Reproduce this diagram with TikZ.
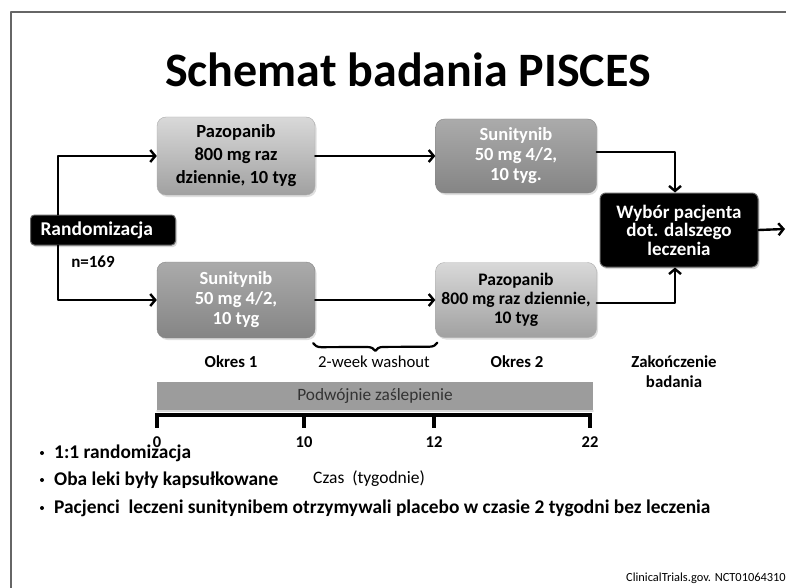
\documentclass[tikz,border=0pt]{standalone}
\usepackage{fontspec}
\setmainfont{Carlito}
\usetikzlibrary{arrows.meta,shadows,decorations.pathreplacing}
\definecolor{dadada}{rgb}{0.85,0.85,0.85}
\definecolor{aqaqaq}{rgb}{0.63,0.63,0.63}
\definecolor{acacac}{rgb}{0.67,0.67,0.67}
\definecolor{ebebeb}{rgb}{0.52,0.52,0.52}
\definecolor{babrab}{rgb}{0.61,0.61,0.61}
\definecolor{ramka}{rgb}{0.4,0.4,0.4}

\begin{document}
\begin{tikzpicture}[line cap=round,line join=round,>={Straight Barb[length=5pt,width=12pt]},x=1pt,y=-1pt,
  jasny/.style={rounded corners=9pt,top color=dadada,bottom color=aqaqaq,draw=acacac,align=center,inner xsep=3pt,
    font=\bfseries\fontsize{18.5}{20}\selectfont,drop shadow={opacity=0.25,shadow xshift=1.5pt,shadow yshift=-2pt}},
  ciemny/.style={jasny,top color=acacac,bottom color=ebebeb,draw=ebebeb,text=white},
  czarny/.style={rounded corners=6pt,fill=black,draw=ramka,line width=1pt,text=white,align=center,
    font=\bfseries\fontsize{19}{18.5}\selectfont,drop shadow={opacity=0.3,shadow xshift=1.5pt,shadow yshift=-2pt}},
  strz/.style={->,line width=2.4pt},
  opis/.style={font=\bfseries\fontsize{16.8}{20}\selectfont,align=center}]
\useasboundingbox (0,0) rectangle (786,588);
\draw[color=ramka,line width=1.4pt] (786,12) -- (11,12) -- (11,588);
\node[font=\bfseries\fontsize{48}{54}\selectfont] (tytul) at (408,70) {Schemat badania PISCES};
% boxes
\node[jasny,minimum width=158,minimum height=78,font=\bfseries\fontsize{18.5}{23}\selectfont] (pazo1) at (236,156) {Pazopanib\\800 mg raz\\dziennie, 10 tyg};
\node[ciemny,minimum width=158,minimum height=76] (suni1) at (236,300) {Sunitynib\\50 mg 4/2,\\10 tyg};
\node[ciemny,minimum width=161,minimum height=74] (suni2) at (516,156) {Sunitynib\\50 mg 4/2,\\10 tyg.};
\node[jasny,minimum width=161,minimum height=75,inner xsep=1pt,font=\bfseries\fontsize{17.6}{19}\selectfont] (pazo2) at (516,300) {Pazopanib\\800 mg raz dziennie,\\10 tyg};
\node[czarny,minimum width=158,minimum height=74] (wybor) at (679,230) {Wybór pacjenta\\dot. dalszego\\leczenia};
\node[czarny,anchor=west,minimum height=30,text width=125,inner xsep=10pt,align=left,rounded corners=4pt,
  font=\bfseries\fontsize{19.5}{20}\selectfont] (rand) at (30,230) {Randomizacja};
\node[font=\bfseries\fontsize{17}{18}\selectfont] (nliczba) at (93,262) {n=169};
\coordinate (wyjscie) at (785,229);
% arrows
\draw[strz] ([xshift=28pt]rand.north west) |- (pazo1);
\draw[strz] ([xshift=28pt]rand.south west) |- (suni1);
\draw[strz] (pazo1) -- (suni2);
\draw[strz] (suni1) -- (pazo2);
\draw[strz] ([yshift=4pt]suni2.east) -| ([xshift=-4pt]wybor.north);
\draw[strz] ([yshift=-3pt]pazo2.east) -| ([xshift=-4pt]wybor.south);
\draw[strz] (wybor.east) -- (wyjscie);
\draw[line width=2.2pt,decorate,decoration={brace,mirror,amplitude=8pt}] ([xshift=-2pt,yshift=-5pt]suni1.south east) -- ([xshift=2pt,yshift=-5pt]pazo2.south west);
% periods
\node[opis] (okres1) at (231,362) {Okres 1};
\node[font=\fontsize{16.7}{20}\selectfont] (washout) at (374,362) {2-week washout};
\node[opis] (okres2) at (517,362) {Okres 2};
\node[opis] (koniec) at (674,372) {Zakończenie\\badania};
% time line
\fill[babrab] (157,382) rectangle (593,411);
\draw[color=dadada,line width=1.5pt] (157,411) -- (593,411);
\node[font=\fontsize{17.3}{18}\selectfont,text=black!80] (slepe) at (375,396) {Podwójnie zaślepienie};
\draw[line width=4pt,line cap=butt] (155,415) -- (592,415);
\foreach \x/\t in {157/0,304/10,434/12,590/22}
{
\draw[line width=4pt,line cap=butt] (\x,415) -- (\x,428);
\node[font=\bfseries\fontsize{16.5}{18}\selectfont] at (\x,442) {\t};
}
\node[font=\fontsize{17.5}{19}\selectfont,anchor=west,inner xsep=0pt] (czas) at (313,479) {Czas~ (tygodnie)};
% bullets
\foreach \y/\t in {453/{1:1 randomizacja},480/{Oba leki były kapsułkowane},508/{Pacjenci~ leczeni sunitynibem otrzymywali placebo w czasie 2 tygodni bez leczenia}}
{
\fill (42,\y) circle (2pt);
\node[anchor=west,font=\bfseries\fontsize{19.4}{21}\selectfont,inner xsep=0pt] at (54,\y) {\t};
}
\node[anchor=east,font=\fontsize{12.4}{14}\selectfont,inner xsep=0pt] (zrodlo) at (786,578) {ClinicalTrials.gov. NCT01064310};
\end{tikzpicture}
\end{document}
